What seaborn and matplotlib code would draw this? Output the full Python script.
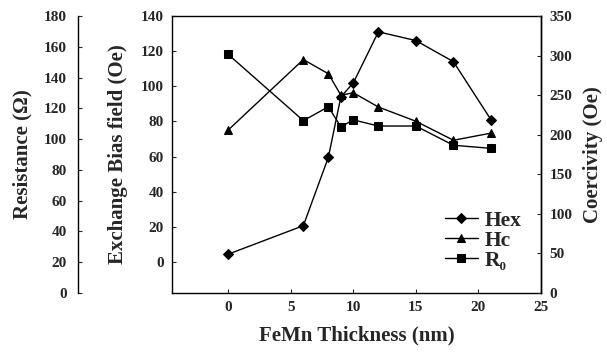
import matplotlib
matplotlib.use("Agg")
import matplotlib.pyplot as plt
import seaborn as sns
import pandas as pd

thickness = [0, 6, 8, 9, 10, 12, 15, 18, 21]
hex_field = [4.5, 20.7, 59.6, 94, 102, 131, 126, 114, 81]
hc_field = [206, 295, 277, 250, 253, 235, 217, 193, 202]
r0_res = [155, 112, 121, 108, 112.5, 108.5, 108.5, 96, 94]

x_ticks = [0, 5, 10, 15, 20, 25]
eb_ticks = [0, 20, 40, 60, 80, 100, 120, 140]
res_ticks = [0, 20, 40, 60, 80, 100, 120, 140, 160, 180]
hc_ticks = [0, 50, 100, 150, 200, 250, 300, 350]

df = pd.DataFrame({"t": thickness, "Hex": hex_field, "Hc": hc_field, "R0": r0_res})

sns.set_style("ticks")
plt.rcParams["font.family"] = ["Liberation Serif", "DejaVu Serif"]
plt.rcParams["font.weight"] = "bold"

fig = plt.figure(figsize=(6.07, 3.54), dpi=100)
ax = fig.add_axes([172/607, 61/354, 369/607, 277/354])
ax_r = ax.twinx()
ax_c = ax.twinx()

lw = 1.0
ms = 5.5
sns.lineplot(data=df, x="t", y="Hex", ax=ax, color="black", marker="D", markersize=ms,
             markeredgecolor="black", linewidth=lw, label="Hex", legend=False)
sns.lineplot(data=df, x="t", y="R0", ax=ax_r, color="black", marker="s", markersize=ms,
             markeredgecolor="black", linewidth=lw, label="R\u2080", legend=False)
sns.lineplot(data=df, x="t", y="Hc", ax=ax_c, color="black", marker="^", markersize=ms+0.5,
             markeredgecolor="black", linewidth=lw, label="Hc", legend=False)

tick_fs = 11
lab_fs = 15

ax.set_xlim(-4.5, 25)
ax.set_ylim(-17.6, 140)
ax.set_xticks(x_ticks)
ax.set_yticks(eb_ticks)
ax.set_xlabel("FeMn Thickness (nm)", fontsize=lab_fs, fontweight="bold", labelpad=8)
ax.set_ylabel("Exchange Bias field (Oe)", fontsize=lab_fs, fontweight="bold", labelpad=9)
ax.tick_params(axis="both", direction="in", length=3, width=0.8, labelsize=tick_fs, pad=6)
for lbl in ax.get_xticklabels() + ax.get_yticklabels():
    lbl.set_fontweight("bold")

ax_r.set_ylim(0, 180)
ax_r.set_yticks(res_ticks)
ax_r.yaxis.set_label_position("left")
ax_r.yaxis.set_ticks_position("left")
ax_r.spines["left"].set_position(("outward", 94 * 0.72))
for s in ["top", "right", "bottom"]:
    ax_r.spines[s].set_visible(False)
ax_r.spines["left"].set_visible(True)
ax_r.set_ylabel("Resistance (\u03a9)", fontsize=lab_fs, fontweight="bold", labelpad=8)
ax_r.tick_params(axis="y", direction="in", length=3, width=0.8, labelsize=tick_fs, pad=8)
for lbl in ax_r.get_yticklabels():
    lbl.set_fontweight("bold")

ax_c.set_ylim(0, 350)
ax_c.set_yticks(hc_ticks)
for s in ["top", "left", "bottom"]:
    ax_c.spines[s].set_visible(False)
ax_c.spines["right"].set_visible(True)
ax_c.set_ylabel("Coercivity (Oe)", fontsize=lab_fs, fontweight="bold", labelpad=8)
ax_c.tick_params(axis="y", direction="in", length=3, width=0.8, labelsize=tick_fs, pad=6)
for lbl in ax_c.get_yticklabels():
    lbl.set_fontweight("bold")

for a in (ax, ax_r, ax_c):
    for s in a.spines.values():
        s.set_linewidth(1.0)
        s.set_color("black")
ax.spines["top"].set_visible(True)
ax.spines["right"].set_visible(True)

handles = []
labels = []
for a in (ax, ax_c, ax_r):
    h, l = a.get_legend_handles_labels()
    handles += h
    labels += l
leg = ax_c.legend(handles, labels, loc="upper left", bbox_to_anchor=(436/607, 1 - 202/354),
                  bbox_transform=fig.transFigure, frameon=False, handlelength=1.55,
                  handletextpad=0.3, labelspacing=0.0, borderaxespad=0,
                  prop={"size": 15.5, "weight": "bold"})

fig.savefig("out.png", dpi=100)
